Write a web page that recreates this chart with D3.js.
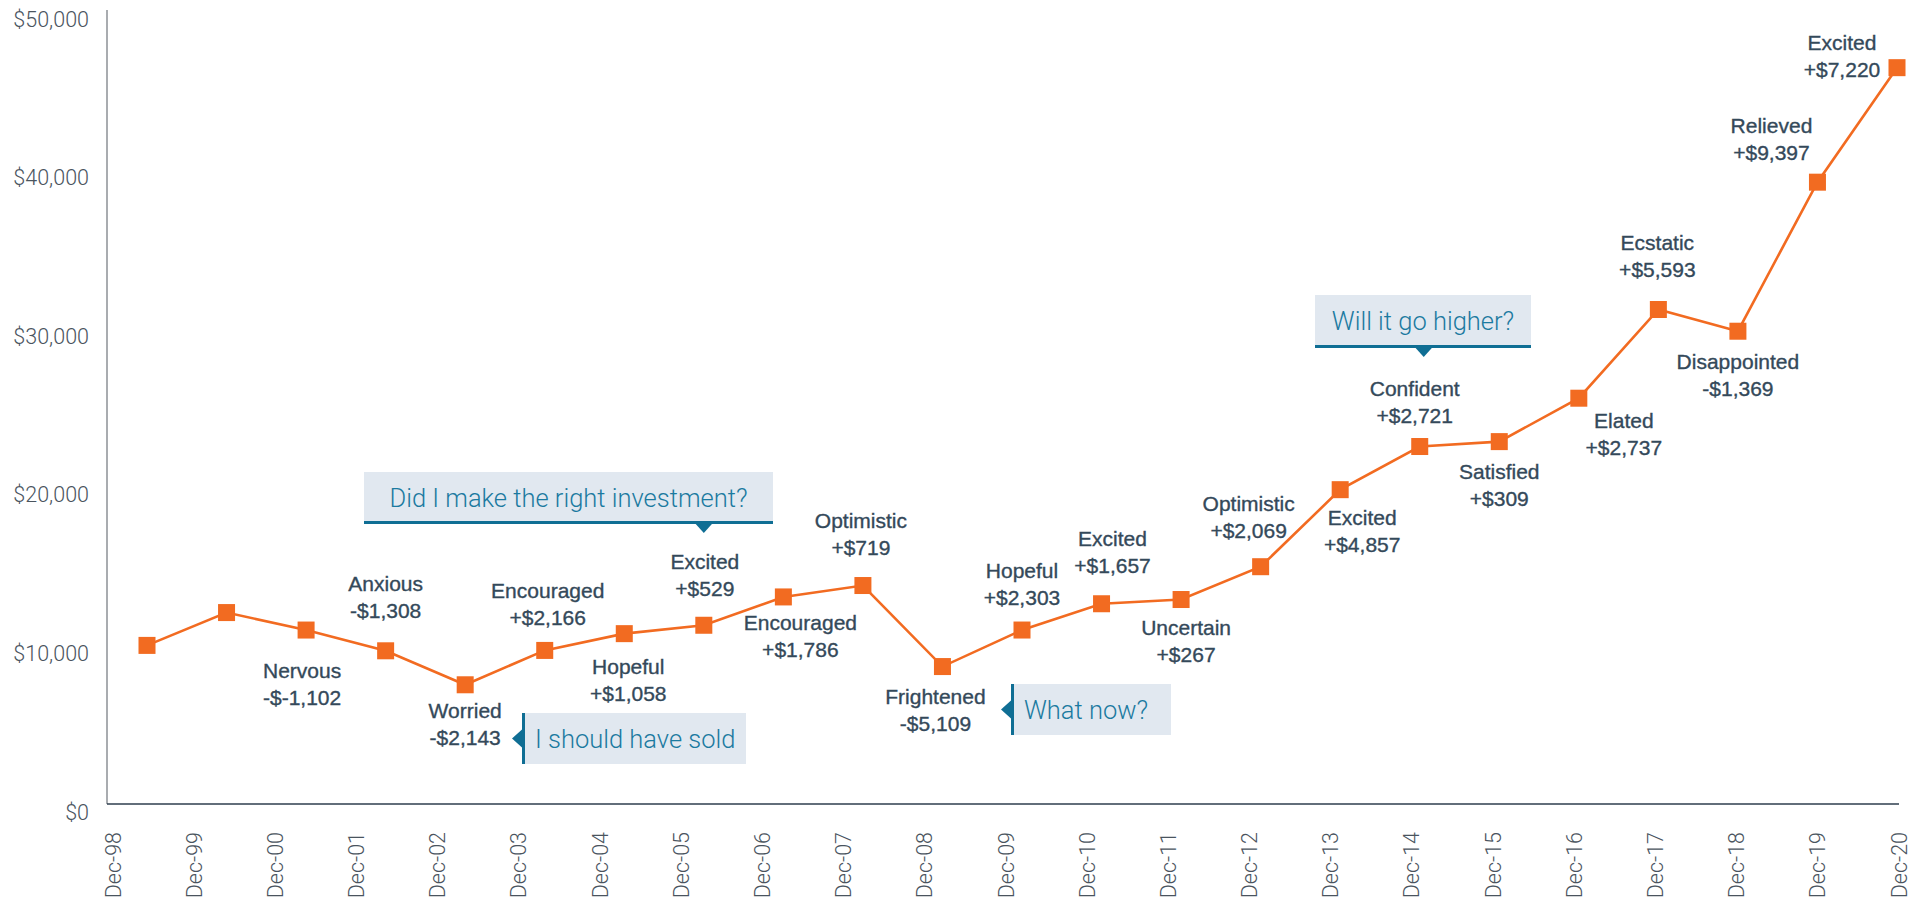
<!DOCTYPE html>
<html>
<head>
<meta charset="utf-8">
<script src="https://cdn.jsdelivr.net/npm/d3@7"></script>
<style>
  html, body { margin: 0; padding: 0; background: #fff; }
  svg { display: block; }
  .lbl { font-family: "Liberation Sans", Arial, sans-serif; font-size: 21px; fill: #34495a; stroke: #34495a; stroke-width: 0.35px; }
  .tick { font-family: Roboto, "Liberation Sans", sans-serif; font-weight: 300; font-size: 21.5px; fill: #4a545e; }
  .call { font-family: Roboto, "Liberation Sans", sans-serif; font-weight: 300; font-size: 25.5px; fill: #1b7aa0; }
</style>
</head>
<body>
<svg id="chart" width="1925" height="901"></svg>
<script>
// ---- data ----
const dates = ["Dec-98","Dec-99","Dec-00","Dec-01","Dec-02","Dec-03","Dec-04","Dec-05","Dec-06","Dec-07","Dec-08",
               "Dec-09","Dec-10","Dec-11","Dec-12","Dec-13","Dec-14","Dec-15","Dec-16","Dec-17","Dec-18","Dec-19","Dec-20"];
const values = [10000, 12070, 10968, 9660, 7517, 9683, 10741, 11270, 13056, 13775, 8666,
                10969, 12626, 12893, 14962, 19819, 22540, 22849, 25586, 31179, 29810, 39207, 46427];
const emotions = [null, null, "Nervous", "Anxious", "Worried", "Encouraged", "Hopeful", "Excited", "Encouraged", "Optimistic", "Frightened",
                  "Hopeful", "Excited", "Uncertain", "Optimistic", "Excited", "Confident", "Satisfied", "Elated", "Ecstatic", "Disappointed", "Relieved", "Excited"];
const changes = [null, null, "-$-1,102", "-$1,308", "-$2,143", "+$2,166", "+$1,058", "+$529", "+$1,786", "+$719", "-$5,109",
                 "+$2,303", "+$1,657", "+$267", "+$2,069", "+$4,857", "+$2,721", "+$309", "+$2,737", "+$5,593", "-$1,369", "+$9,397", "+$7,220"];
const yTicks = [0, 10000, 20000, 30000, 40000, 50000];
const callTexts = ["Did I make the right investment?", "I should have sold", "What now?", "Will it go higher?"];

// ---- layout (offsets of each label from its marker) ----
const labelOffsets = [null, null, [-4,48],[0,-60],[0,33],[3,-52],[4,40],[1,-56],[17,33],[-2,-58],[-7,37],
                      [0,-52],[11,-58],[5,35],[-12,-56],[22,35],[-5,-51],[0,37],[45,30],[-1,-60],[0,38],[-46,-49],[-55,-18]];

const svg = d3.select("#chart");
const y = d3.scaleLinear().domain([0, 50000]).range([804, 11]);
const xPts = d3.scalePoint().domain(d3.range(values.length)).range([147, 1897]);
const xLab = d3.scalePoint().domain(dates).range([113, 1899]);

const ORANGE = "#f26b21";

// axes lines
svg.append("line").attr("x1", 107).attr("x2", 107).attr("y1", 10).attr("y2", 804)
  .attr("stroke", "#8c9196").attr("stroke-width", 1.5);
svg.append("line").attr("x1", 107).attr("x2", 1899).attr("y1", y(0)).attr("y2", y(0))
  .attr("stroke", "#2e3e4e").attr("stroke-width", 1.5);

// y tick labels
svg.selectAll("text.ytk").data(yTicks).enter().append("text")
  .attr("class", "tick ytk").attr("x", 89).attr("y", d => y(d) + 8)
  .attr("dy", "0.35em").attr("text-anchor", "end")
  .text(d => "$" + d3.format(",")(d));

// x tick labels
svg.selectAll("text.xtk").data(dates).enter().append("text")
  .attr("class", "tick xtk")
  .attr("transform", d => `translate(${xLab(d)},832) rotate(-90)`)
  .attr("dy", "0.35em").attr("text-anchor", "end")
  .text(d => d);

// line
const line = d3.line().x((d, i) => xPts(i)).y(d => y(d));
svg.append("path").datum(values).attr("d", line)
  .attr("fill", "none").attr("stroke", ORANGE).attr("stroke-width", 2.6);

// markers
const ms = 17;
svg.selectAll("rect.mk").data(values).enter().append("rect")
  .attr("class", "mk")
  .attr("x", (d, i) => xPts(i) - ms / 2).attr("y", d => y(d) - ms / 2)
  .attr("width", ms).attr("height", ms).attr("fill", ORANGE);

// labels
const lblIdx = d3.range(values.length).filter(i => emotions[i]);
const lg = svg.selectAll("g.lb").data(lblIdx).enter().append("g").attr("class", "lb")
  .attr("transform", i => `translate(${xPts(i) + labelOffsets[i][0]},${y(values[i]) + labelOffsets[i][1]})`);
lg.append("text").attr("class", "lbl").attr("text-anchor", "middle").text(i => emotions[i]);
lg.append("text").attr("class", "lbl").attr("text-anchor", "middle").attr("y", 27).text(i => changes[i]);

// callouts
const BOX = "#e1e8f0", EDGE = "#0f6e94";
function calloutBottom(text, x0, y0, w, h, px) {
  const g = svg.append("g");
  g.append("rect").attr("x", x0).attr("y", y0).attr("width", w).attr("height", h).attr("fill", BOX);
  g.append("rect").attr("x", x0).attr("y", y0 + h - 2).attr("width", w).attr("height", 3).attr("fill", EDGE);
  g.append("path").attr("d", `M${px - 9},${y0 + h}L${px + 9},${y0 + h}L${px},${y0 + h + 10}Z`).attr("fill", EDGE);
  g.append("text").attr("class", "call").attr("x", x0 + w / 2).attr("y", y0 + h / 2 + 9)
    .attr("text-anchor", "middle").text(text);
}
function calloutLeft(text, x0, y0, w, h) {
  const g = svg.append("g");
  g.append("rect").attr("x", x0).attr("y", y0).attr("width", w).attr("height", h).attr("fill", BOX);
  g.append("rect").attr("x", x0).attr("y", y0).attr("width", 3).attr("height", h).attr("fill", EDGE);
  const cy = y0 + h / 2;
  g.append("path").attr("d", `M${x0},${cy - 9}L${x0},${cy + 9}L${x0 - 10},${cy}Z`).attr("fill", EDGE);
  g.append("text").attr("class", "call").attr("x", x0 + 13).attr("y", y0 + h / 2 + 9)
    .attr("text-anchor", "start").text(text);
}
calloutBottom(callTexts[0], 364, 472, 409, 51, xPts(7));
calloutLeft(callTexts[1], 522, 713, 224, 51);
calloutLeft(callTexts[2], 1011, 684, 160, 51);
calloutBottom(callTexts[3], 1315, 295, 216, 52, xPts(16) + 4);
</script>
</body>
</html>
